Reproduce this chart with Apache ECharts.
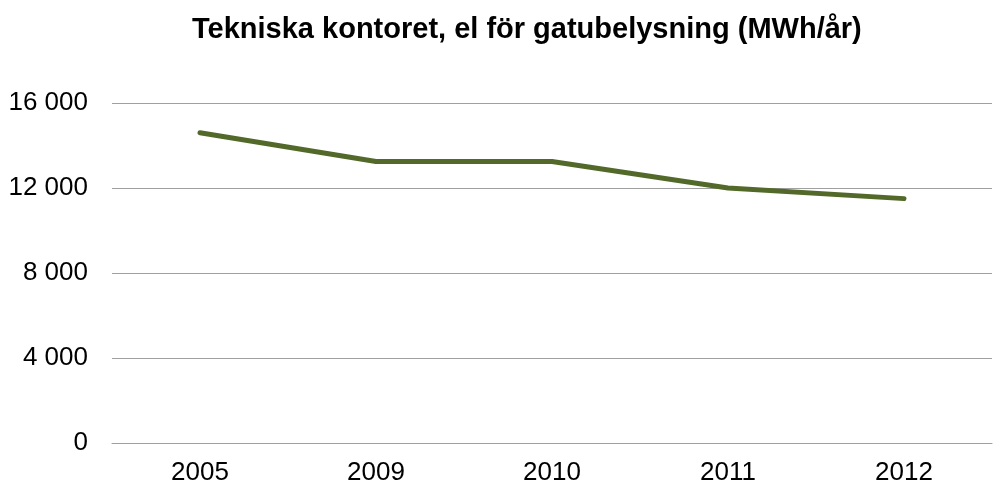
<!DOCTYPE html>
<html>
<head>
<meta charset="utf-8">
<script src="https://cdn.jsdelivr.net/npm/echarts@6/dist/echarts.min.js"></script>
<style>
  html, body { margin: 0; padding: 0; background: #fff; }
  #chart { width: 995px; height: 487px; }
</style>
</head>
<body>
<div id="chart"></div>
<script>
// data
let years = ['2005', '2009', '2010', '2011', '2012']
let mwh = [14600, 13250, 13250, 12000, 11500]
let yTicks = [0, 4000, 8000, 12000, 16000]

function fmt(v) {
  // swedish style: space as thousands separator
  return String(v).replace(/\B(?=(\d{3})+(?!\d))/g, ' ')
}

let chart = echarts.init(document.getElementById('chart'))
chart.setOption({
  animation: false,
  textStyle: { fontFamily: 'Liberation Sans, Arial, sans-serif' },
  title: {
    text: 'Tekniska kontoret, el för gatubelysning (MWh/år)',
    left: 192,
    top: 15,
    padding: 0,
    textStyle: { fontSize: 29, fontWeight: 'bold', color: '#000' }
  },
  grid: { left: 112, right: 3, top: 103, bottom: 44 },
  xAxis: {
    type: 'category',
    data: years,
    boundaryGap: true,
    axisLine: { show: true, lineStyle: { color: '#a0a0a0', width: 1 } },
    axisTick: { show: false },
    axisLabel: { color: '#000', fontSize: 26, margin: 17 }
  },
  yAxis: {
    type: 'value',
    min: yTicks[0],
    max: yTicks[yTicks.length - 1],
    interval: 4000,
    axisLine: { show: false },
    axisTick: { show: false },
    axisLabel: { color: '#000', fontSize: 26, margin: 24, formatter: fmt },
    splitLine: { lineStyle: { color: '#a0a0a0', width: 1 } }
  },
  series: [{
    type: 'line',
    data: mwh,
    showSymbol: false,
    symbol: 'none',
    lineStyle: { color: '#52692a', width: 5, cap: 'round', join: 'round' }
  }]
})
</script>
</body>
</html>
